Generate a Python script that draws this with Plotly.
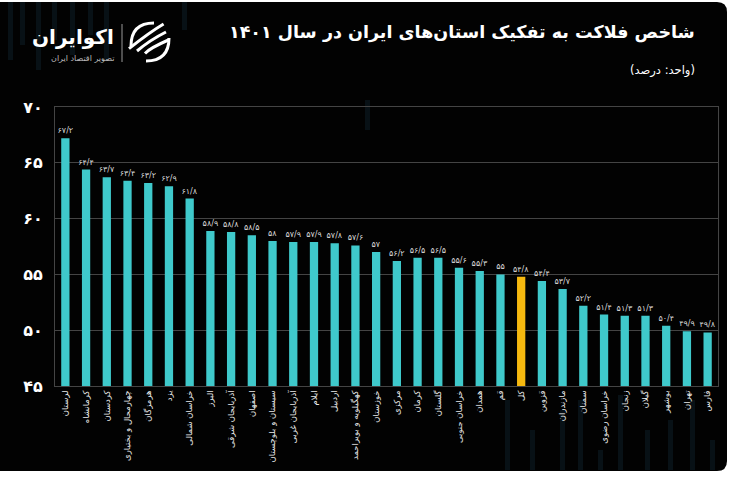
import plotly.graph_objects as go

provinces = ["لرستان", "کرمانشاه", "کردستان", "چهارمحال و بختیاری", "هرمزگان", "یزد",
             "خراسان شمالی", "البرز", "آذربایجان شرقی", "اصفهان", "سیستان و بلوچستان",
             "آذربایجان غربی", "ایلام", "اردبیل", "کهگیلویه و بویراحمد", "خوزستان",
             "مرکزی", "کرمان", "گلستان", "خراسان جنوبی", "همدان", "قم", "کل", "قزوین",
             "مازندران", "سمنان", "خراسان رضوی", "زنجان", "گیلان", "بوشهر", "تهران", "فارس"]
values = [67.2, 64.4, 63.7, 63.4, 63.2, 62.9, 61.8, 58.9, 58.8, 58.5, 58.0, 57.9, 57.9,
          57.8, 57.6, 57.0, 56.2, 56.5, 56.5, 55.6, 55.3, 55.0, 54.8, 54.4, 53.7, 52.2,
          51.4, 51.3, 51.3, 50.4, 49.9, 49.8]
highlight = "کل"
y_ticks = [45, 50, 55, 60, 65, 70]

FA = str.maketrans("0123456789.", "۰۱۲۳۴۵۶۷۸۹/")


def fa(v):
    s = ("%g" % v)
    return s.translate(FA)


TEAL = "#3fc9cb"
ORANGE = "#f6b90f"
colors = [ORANGE if p == highlight else TEAL for p in provinces]
labels = [fa(v) for v in values]

FONT = "DejaVu Sans"

fig = go.Figure()
fig.add_trace(go.Bar(
    x=provinces, y=values, marker=dict(color=colors, line=dict(width=0)),
    text=labels, textposition="outside", cliponaxis=False, constraintext="none",
    textfont=dict(family=FONT, size=8, color="#d8d8d8"),
    hoverinfo="skip",
))

fig.update_layout(
    width=730, height=478,
    margin=dict(l=55, r=12, t=107, b=92),
    paper_bgcolor="#ffffff", plot_bgcolor="rgba(0,0,0,0)",
    bargap=0.6, showlegend=False,
    font=dict(family=FONT, color="white"),
)

fig.update_xaxes(
    tickangle=-90, tickfont=dict(family=FONT, size=8.5, color="#e8e8e8"),
    showgrid=False, showline=True, linecolor="#444", mirror=True, ticks="",
    categoryorder="array", categoryarray=provinces,
)
fig.update_yaxes(
    range=[45, 70], tickvals=y_ticks, ticktext=["<b>" + fa(v) + "</b>" for v in y_ticks],
    tickfont=dict(family=FONT, size=16, color="white"),
    showgrid=True, gridcolor="#444", gridwidth=1, zeroline=False,
    showline=True, linecolor="#444", mirror=True, ticks="outside", ticklen=6, tickcolor="#020202",
    ticklabelstandoff=2,
)

W, H = 730, 478
pl, pr, pt, pb = 55, 12, 107, 92
pw, ph = W - pl - pr, H - pt - pb


def px(x):
    return (x - pl) / pw


def py(y):
    return (H - pb - y) / ph


x0, x1, y0, y1, r = 0, 727, 2, 471, 10
card = (f"M{px(x0)},{py(y0)} L{px(x1 - r)},{py(y0)} "
        f"Q{px(x1)},{py(y0)} {px(x1)},{py(y0 + r)} "
        f"L{px(x1)},{py(y1 - r)} Q{px(x1)},{py(y1)} {px(x1 - r)},{py(y1)} "
        f"L{px(x0)},{py(y1)} Z")
shapes = [dict(type="path", xref="paper", yref="paper", layer="below", path=card,
               fillcolor="#020202", line=dict(width=0))]

deco = [(8, 2, 60), (20, 2, 45), (36, 2, 70), (52, 2, 40), (70, 2, 55), (88, 2, 35),
        (104, 2, 60), (182, 2, 30), (365, 100, 130),
        (505, 400, 470), (530, 430, 470), (560, 410, 470), (578, 400, 470),
        (598, 450, 470), (618, 395, 470), (645, 430, 470), (668, 420, 470),
        (690, 400, 470), (710, 440, 470)]
for xd, ya, yb in deco:
    shapes.append(dict(type="rect", xref="paper", yref="paper", layer="below",
                       x0=px(xd), x1=px(xd + 5), y0=py(yb), y1=py(ya),
                       fillcolor="rgba(30,75,95,0.22)", line=dict(width=0)))

shapes.append(dict(type="line", xref="paper", yref="paper", x0=px(122), x1=px(122),
                   y0=py(24), y1=py(62), line=dict(color="#999999", width=1)))
cx, cy, rr = 150, 42, 19
shapes.append(dict(type="path", xref="paper", yref="paper",
                   path=(f"M{px(cx - rr)},{py(cy + 4)} Q{px(cx - rr)},{py(cy - rr)} {px(cx + 4)},{py(cy - rr)}"),
                   line=dict(color="white", width=3)))
shapes.append(dict(type="path", xref="paper", yref="paper",
                   path=(f"M{px(cx + rr)},{py(cy - 4)} Q{px(cx + rr)},{py(cy + rr)} {px(cx - 4)},{py(cy + rr)}"),
                   line=dict(color="white", width=3)))
for k in (-8, 0, 8):
    shapes.append(dict(type="path", xref="paper", yref="paper",
                       path=(f"M{px(cx - 13 + k)},{py(cy + 9 + k * 0.3)} Q{px(cx)},{py(cy - 2 + k)} {px(cx + 16 + k * 0.3)},{py(cy - 10 + k)}"),
                       line=dict(color="white", width=3)))

annotations = [
    dict(text="<b>شاخص فلاکت به تفکیک استان‌های ایران در سال ۱۴۰۱</b>", xref="paper", yref="paper",
         x=px(697), y=py(32), xanchor="right", yanchor="middle", showarrow=False,
         font=dict(family=FONT, size=17.5, color="white")),
    dict(text="(واحد: درصد)", xref="paper", yref="paper",
         x=px(697), y=py(71), xanchor="right", yanchor="middle", showarrow=False,
         font=dict(family=FONT, size=11.5, color="white")),
    dict(text="<b>اکوایران</b>", xref="paper", yref="paper",
         x=px(116), y=py(37), xanchor="right", yanchor="middle", showarrow=False,
         font=dict(family=FONT, size=20, color="white")),
    dict(text="تصویر اقتصاد ایران", xref="paper", yref="paper",
         x=px(116), y=py(59), xanchor="right", yanchor="middle", showarrow=False,
         font=dict(family=FONT, size=8, color="#bbbbbb")),
]

fig.update_layout(shapes=shapes, annotations=annotations)
fig.write_html("out.html")
